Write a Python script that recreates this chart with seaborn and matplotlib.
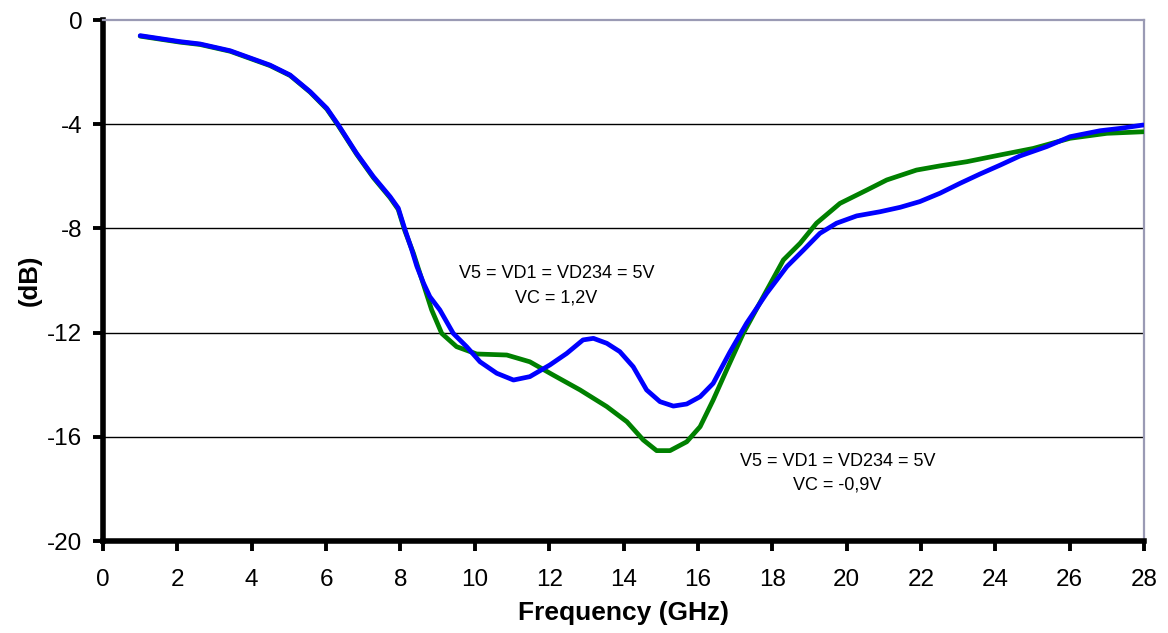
import matplotlib
matplotlib.use("Agg")
import matplotlib.pyplot as plt
import seaborn as sns
import pandas as pd

# S-parameter sweeps, frequency in GHz, magnitude in dB
freq_vc_pos = [1.0, 2.07, 2.61, 3.42, 4.49, 5.03, 5.57, 6.02, 6.33, 6.82, 7.27, 7.72, 7.94,
               8.12, 8.3, 8.44, 8.62, 8.79, 9.06, 9.42, 9.78, 10.14, 10.59, 11.04, 11.48,
               12.02, 12.47, 12.91, 13.19, 13.55, 13.9, 14.26, 14.62, 14.98, 15.34, 15.7,
               16.06, 16.41, 16.86, 17.31, 17.85, 18.39, 18.84, 19.28, 19.73, 20.27, 20.9,
               21.44, 21.97, 22.51, 23.05, 23.59, 24.13, 24.66, 25.38, 26.01, 26.82, 27.36,
               27.98]
db_vc_pos = [-0.60, -0.83, -0.92, -1.18, -1.73, -2.11, -2.75, -3.39, -4.03, -5.12, -6.01, -6.78,
             -7.22, -8.04, -8.80, -9.45, -10.10, -10.62, -11.13, -12.03, -12.54, -13.12,
             -13.56, -13.82, -13.69, -13.24, -12.80, -12.28, -12.22, -12.41, -12.73, -13.31,
             -14.20, -14.65, -14.82, -14.74, -14.46, -13.95, -12.75, -11.64, -10.49, -9.47,
             -8.83, -8.19, -7.80, -7.52, -7.36, -7.19, -6.97, -6.65, -6.27, -5.91, -5.57,
             -5.22, -4.86, -4.48, -4.25, -4.16, -4.03]

freq_vc_neg = [1.0, 2.07, 2.61, 3.42, 4.49, 5.03, 5.57, 6.02, 6.33, 6.82, 7.27, 7.72, 7.94,
               8.12, 8.35, 8.61, 8.84, 9.11, 9.51, 10.05, 10.86, 11.48, 12.11, 12.83, 13.55,
               14.09, 14.53, 14.89, 15.25, 15.7, 16.06, 16.41, 16.77, 17.22, 17.67, 18.3,
               18.75, 19.19, 19.82, 20.54, 21.08, 21.88, 22.51, 23.23, 24.13, 25.02, 26.01,
               27.0, 27.98]
db_vc_neg = [-0.62, -0.85, -0.94, -1.20, -1.75, -2.13, -2.77, -3.42, -4.06, -5.15, -6.05,
             -6.82, -7.27, -8.10, -8.96, -10.11, -11.13, -12.03, -12.54, -12.82, -12.86,
             -13.12, -13.63, -14.20, -14.84, -15.42, -16.12, -16.53, -16.53, -16.19, -15.61,
             -14.59, -13.44, -12.03, -10.85, -9.21, -8.57, -7.80, -7.04, -6.53, -6.14, -5.76,
             -5.60, -5.44, -5.18, -4.93, -4.54, -4.35, -4.29]

x_ticks = list(range(0, 29, 2))
y_ticks = [0, -4, -8, -12, -16, -20]

label_pos = "V5 = VD1 = VD234 = 5V\nVC = 1,2V"
label_neg = "V5 = VD1 = VD234 = 5V\nVC = -0,9V"

df = pd.concat([
    pd.DataFrame({"f": freq_vc_neg, "db": db_vc_neg, "bias": "VC = -0,9V"}),
    pd.DataFrame({"f": freq_vc_pos, "db": db_vc_pos, "bias": "VC = 1,2V"}),
])

sns.set_style("white")
plt.rcParams["font.family"] = ["Liberation Sans", "DejaVu Sans"]
plt.rcParams["axes.unicode_minus"] = False
plt.rcParams["text.color"] = "black"
plt.rcParams["xtick.color"] = "black"
plt.rcParams["ytick.color"] = "black"
plt.rcParams["axes.labelcolor"] = "black"

fig = plt.figure(figsize=(11.68, 6.33), dpi=100)
ax = fig.add_axes([0.0882, 0.1453, 0.8913, 0.8231])

for yv in y_ticks[1:-1]:
    ax.axhline(yv, color="black", lw=1.0, zorder=1)

sns.lineplot(data=df, x="f", y="db", hue="bias",
             palette={"VC = -0,9V": "#008000", "VC = 1,2V": "#0000FF"},
             hue_order=["VC = -0,9V", "VC = 1,2V"],
             linewidth=3.4, legend=False, sort=False, ax=ax, zorder=3)

ax.set_xlim(0, 28)
ax.set_ylim(-20, 0)
ax.set_xticks(x_ticks)
ax.set_yticks(y_ticks)
ax.set_xticklabels([str(t) for t in x_ticks], fontsize=17.5)
ax.set_yticklabels([str(t) for t in y_ticks], fontsize=17.5)
ax.tick_params(axis="both", which="major", direction="out", length=7, width=2.8,
               bottom=True, left=True, top=False, right=False)
ax.tick_params(axis="x", pad=13)
ax.tick_params(axis="y", pad=8)

for side in ("left", "bottom"):
    ax.spines[side].set_color("black")
    ax.spines[side].set_linewidth(4)
for side in ("top", "right"):
    ax.spines[side].set_color("#9a9ab4")
    ax.spines[side].set_linewidth(1.6)
ax.grid(False)

ax.set_xlabel("Frequency (GHz)", fontsize=19, fontweight="bold", labelpad=7)
ax.set_ylabel("(dB)", fontsize=18.5, fontweight="bold", labelpad=4)

ax.text(12.2, -10.2, label_pos, ha="center", va="center", fontsize=13, linespacing=1.55)
ax.text(19.75, -17.4, label_neg, ha="center", va="center", fontsize=13, linespacing=1.55)

fig.savefig("out.png", dpi=100)
